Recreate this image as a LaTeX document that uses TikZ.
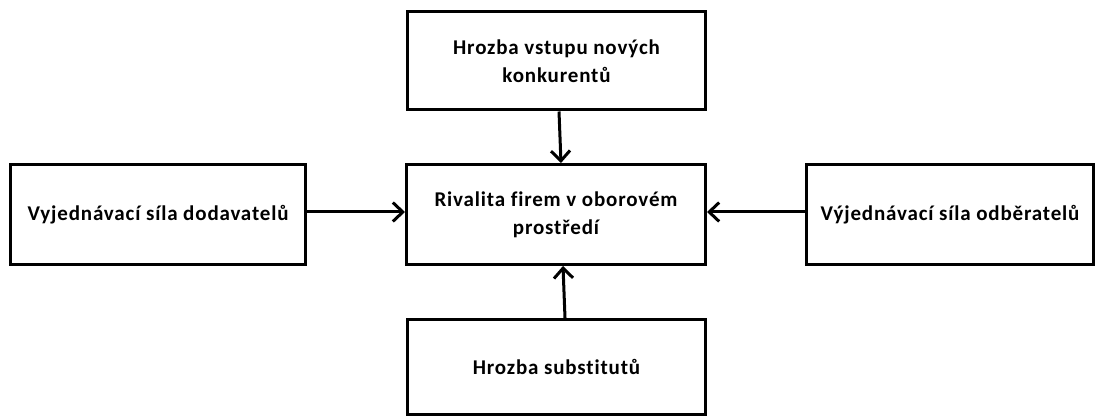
\documentclass[tikz,border=0pt]{standalone}
\usepackage{fontspec}
\setmainfont{Carlito}[LetterSpace=4, Ligatures=NoCommon]
\usetikzlibrary{arrows.meta}

\tikzset{
  sila/.style={draw, line width=3pt, inner sep=0pt, align=center,
    font=\fontsize{21}{28}\selectfont\bfseries},
  sipka/.style={line width=3pt, -{Straight Barb[length=10pt, width=19pt]}}
}

\begin{document}
\begin{tikzpicture}[x=1pt, y=-1pt]
      \useasboundingbox (0, 0) rectangle (1099, 419);

      % Forces
      \node [sila, minimum width=298pt, minimum height=98pt] (nove) at (556.5, 61)
        {Hrozba vstupu nových\\konkurentů};
      \node [sila, minimum width=299pt, minimum height=100pt] (rivalita) at (556, 214.5)
        {Rivalita firem v oborovém\\prostředí};
      \node [sila, minimum width=295pt, minimum height=100pt] (dodavatele) at (158, 214.5)
        {Vyjednávací síla dodavatelů};
      \node [sila, minimum width=287pt, minimum height=100pt] (odberatele) at (950, 214.5)
        {Výjednávací síla odběratelů};
      \node [sila, minimum width=298pt, minimum height=95pt] (substituty) at (556.5, 367)
        {Hrozba substitutů};

      % Arrows
      \draw [sipka] ([xshift=2.5pt]nove.south) -- ([xshift=5pt]rivalita.north);
      \draw [sipka] ([xshift=8.5pt]substituty.north) -- ([xshift=7pt]rivalita.south);
      \draw [sipka] ([yshift=2.5pt]dodavatele.east) -- ([yshift=2.5pt]rivalita.west);
      \draw [sipka] ([yshift=2.5pt]odberatele.west) -- ([yshift=2.5pt]rivalita.east);
    \end{tikzpicture}
\end{document}
